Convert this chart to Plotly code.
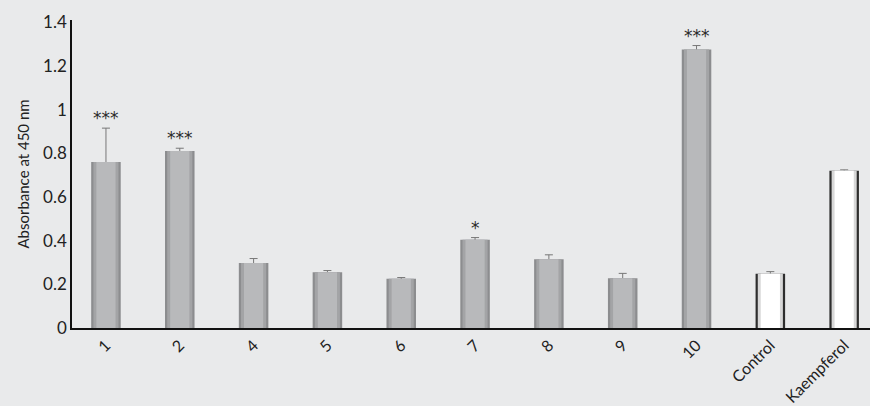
import plotly.graph_objects as go

categories = ["1", "2", "4", "5", "6", "7", "8", "9", "10", "Control", "Kaempferol"]
values = [0.76, 0.81, 0.298, 0.255, 0.225, 0.404, 0.315, 0.228, 1.275, 0.248, 0.72]
errors = [0.155, 0.013, 0.02, 0.008, 0.006, 0.01, 0.02, 0.022, 0.018, 0.01, 0.004]
signif = ["***", "***", "", "", "", "*", "", "", "***", "", ""]
is_ref = [False] * 9 + [True, True]

x_idx = list(range(len(categories)))
outer_col = ["#2e2e2e" if r else "#8c8d8f" for r in is_ref]
inner_col = ["#ffffff" if r else "#b8b9bb" for r in is_ref]
mid_col = ["#d8d8d8" if r else "#a3a4a6" for r in is_ref]

fig = go.Figure()
fig.add_trace(go.Bar(x=x_idx, y=values, width=0.40, marker=dict(color=outer_col, line=dict(width=0)),
                     error_y=dict(type="data", array=errors, color="#777777", thickness=1, width=4),
                     showlegend=False, hoverinfo="skip"))
fig.add_trace(go.Bar(x=x_idx, y=values, width=0.34, marker=dict(color=mid_col, line=dict(width=0)),
                     showlegend=False, hoverinfo="skip"))
fig.add_trace(go.Bar(x=x_idx, y=values, width=0.26, marker=dict(color=inner_col, line=dict(width=0)),
                     showlegend=False, hoverinfo="skip"))

for i, s in enumerate(signif):
    if s:
        fig.add_annotation(x=x_idx[i], y=values[i] + errors[i], text=s, showarrow=False,
                           yanchor="bottom", yshift=-2,
                           font=dict(size=17, color="#2a2a2a", family="DejaVu Sans"))

fig.update_layout(
    width=870, height=406,
    margin=dict(l=72, r=0, t=20, b=78),
    paper_bgcolor="#e9eaeb", plot_bgcolor="#e9eaeb",
    barmode="overlay",
    font=dict(family="Lato", color="#222222", size=17),
)
fig.update_xaxes(range=[-0.46, 10.35], tickmode="array", tickvals=x_idx, ticktext=categories,
                 tickangle=-45, showgrid=False, zeroline=False, showline=True, linecolor="#111111",
                 linewidth=1.5, ticks="", tickfont=dict(size=16), automargin=False)
fig.update_yaxes(range=[0, 1.41], tickmode="array", tickvals=[0, 0.2, 0.4, 0.6, 0.8, 1.0, 1.2, 1.4],
                 ticktext=["0", "0.2", "0.4", "0.6", "0.8", "1", "1.2", "1.4"],
                 showgrid=False, zeroline=False, showline=True, linecolor="#111111", linewidth=1.5,
                 ticks="", tickfont=dict(size=17), automargin=False,
                 title=dict(text="Absorbance at 450 nm", font=dict(size=15), standoff=10))

fig.write_html("out.html")
